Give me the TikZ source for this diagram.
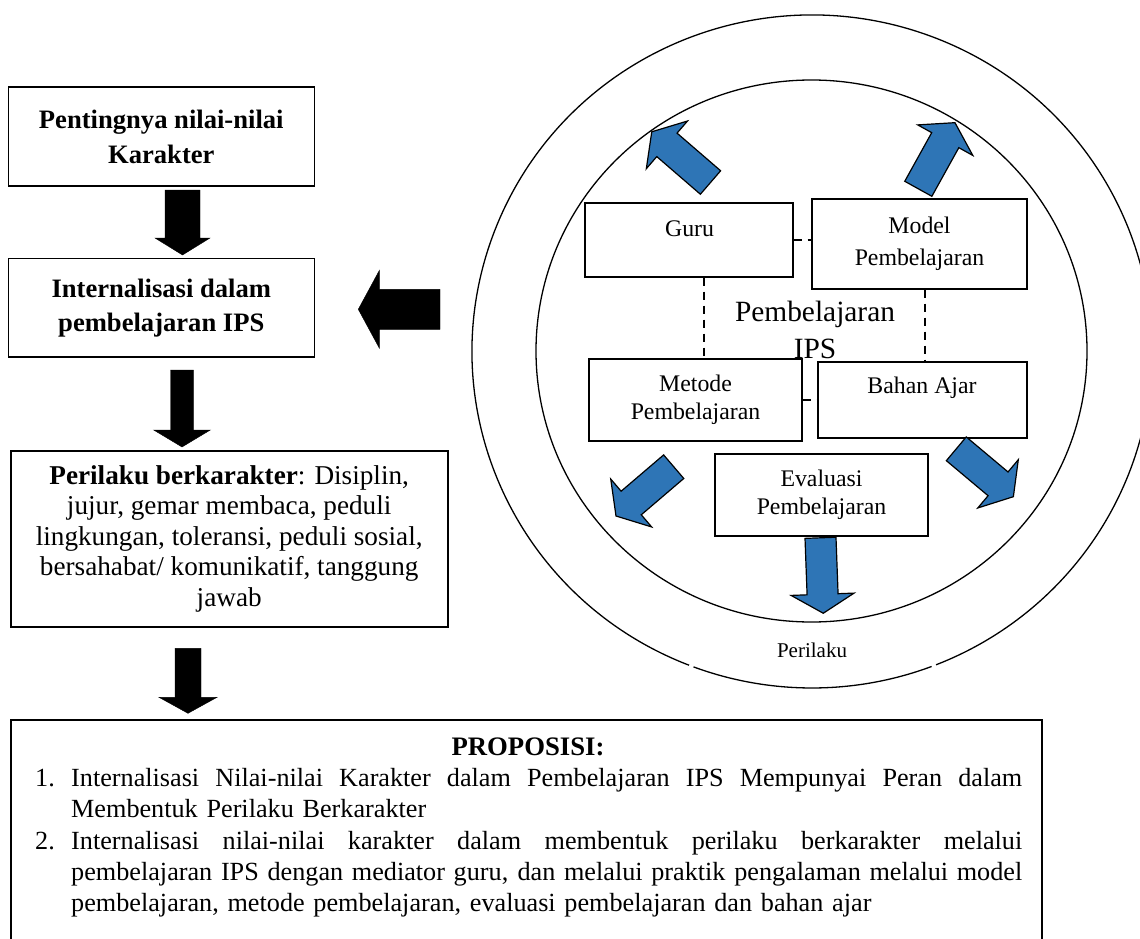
\documentclass[tikz,border=0pt]{standalone}
\usepackage{fontspec}
\setmainfont{Liberation Serif}
\definecolor{arrowblue}{RGB}{46,117,182}
\newcommand{\setfs}[2]{\fontsize{#1}{#2}\selectfont}
\newcommand{\jline}[1]{\leavevmode\hbox to 951pt{\spaceskip=0.25em plus 1fil\relax #1}}
\newcommand{\blockarrow}[7]{%
  \begin{scope}[shift={#2}, rotate=#3]
    \filldraw[#1] (0,-#5) -- ({#4-#7},-#5) -- ({#4-#7},-#6) -- (#4,0) -- ({#4-#7},#6) -- ({#4-#7},#5) -- (0,#5) -- cycle;
  \end{scope}}
\begin{document}
\begin{tikzpicture}[x=1pt,y=-1pt,
  box/.style={draw=black, fill=white, line width=1.6pt, inner sep=0pt},
  ibox/.style={draw=black, fill=white, line width=1.4pt, inner sep=0pt},
  itxt/.style={inner sep=0pt, align=center, font=\setfs{23.8}{28}},
  ptxt/.style={anchor=base west, inner sep=0pt, font=\setfs{26.2}{31}},
  blk/.style={fill=black, draw=black, line width=0.4pt},
  blu/.style={fill=arrowblue, draw=black, line width=1.2pt, line join=miter},
  dsh/.style={dash pattern=on 8pt off 6pt, line width=2pt},
  ring/.style={draw=black, line width=1.3pt}]
\useasboundingbox (0,0) rectangle (1140,939);
\clip (0,0) rectangle (1140,939);
% ellipses
\draw[ring] (811.5,351) ellipse [x radius=275.5, y radius=271];
\draw[ring] ([shift={(111.2:340 and 336.5)}]812,351.5) arc[start angle=111.2, end angle=428.6, x radius=340, y radius=336.5];
\draw[ring] ([shift={(69.4:340 and 336.5)}]812,351.5) arc[start angle=69.4, end angle=110.4, x radius=340, y radius=336.5];
% left column boxes
\node[box, minimum width=306pt, minimum height=98.7pt, align=center, font=\bfseries\setfs{26.6}{35}] (b1) at (161.3,136.65) {Pentingnya nilai-nilai\\Karakter};
\node[box, minimum width=306pt, minimum height=98.7pt, align=center, font=\bfseries\setfs{26.6}{34}] (b2) at (161.3,307.65) {Internalisasi dalam\\pembelajaran IPS};
\node[box, minimum width=437pt, minimum height=175.7pt, align=center, font=\setfs{27.2}{30.5}] (b3) at (229.2,538.85) {\textbf{Perilaku berkarakter}: Disiplin,\\jujur, gemar membaca, peduli\\lingkungan, toleransi, peduli sosial,\\bersahabat/ komunikatif, tanggung\\jawab};
\node[box, minimum width=1031pt, minimum height=245pt] (b4) at (526.5,842.5) {};
\node[inner sep=0pt, font=\bfseries\setfs{26.7}{32}] (tit) at (528,747) {PROPOSISI:};
\node[ptxt] (n1) at (35,786.5) {1.};
\node[ptxt, text width=951pt, align=left] (p1) at (71,786.5) {\jline{Internalisasi Nilai-nilai Karakter dalam Pembelajaran IPS Mempunyai Peran dalam}\\Membentuk Perilaku Berkarakter};
\node[ptxt] (n2) at (35,849) {2.};
\node[ptxt, text width=951pt, align=left] (p2) at (71,849) {\jline{Internalisasi nilai-nilai karakter dalam membentuk perilaku berkarakter melalui}\\\jline{pembelajaran IPS dengan mediator guru, dan melalui praktik pengalaman melalui model}\\pembelajaran, metode pembelajaran, evaluasi pembelajaran dan bahan ajar};
% black arrows
\blockarrow{blk}{(182.5,190)}{-90}{65}{17.5}{27.5}{17}
\blockarrow{blk}{(182,370)}{-90}{77}{11.5}{28.3}{17}
\blockarrow{blk}{(188,648.3)}{-90}{65}{13}{29}{16}
\blockarrow{blk}{(440,309.3)}{180}{81.7}{20}{38.8}{21}
% inner boxes
\node[ibox, minimum width=208pt, minimum height=74pt] (guru) at (689,240) {};
\node[itxt] (guruT) at (689.6,229) {Guru};
\node[ibox, minimum width=215pt, minimum height=90pt, align=center, font=\setfs{23.8}{32}] (model) at (919.5,244) {Model\\Pembelajaran};
\node[ibox, minimum width=213pt, minimum height=82pt, align=center, font=\setfs{23.8}{28}] (metode) at (695.5,400) {Metode\\Pembelajaran};
\node[ibox, minimum width=209pt, minimum height=76pt] (bahan) at (922.5,400) {};
\node[itxt] (bahanT) at (922,388) {Bahan Ajar};
\node[ibox, minimum width=213pt, minimum height=82pt, align=center, font=\setfs{23.8}{28}] (eval) at (821.5,495) {Evaluasi\\Pembelajaran};
% dashed links
\coordinate (dx1) at (704,0);
\coordinate (dx2) at (925,0);
\draw[dsh] (guru.south -| dx1) -- (metode.north -| dx1);
\draw[dsh] (model.south -| dx2) -- (bahan.north -| dx2);
\draw[dsh] (guru.east) -- (model.west |- guru.east);
\draw[dsh] (metode.east) -- (bahan.west);
% centre label
\node[inner sep=0pt, align=center, font=\setfs{29.4}{37}] (pips) at (815,329.5) {Pembelajaran\\IPS};
\node[inner sep=0pt, font=\setfs{21}{24}] (per) at (812,650) {Perilaku};
% blue arrows
\blockarrow{blu}{(710.5,182.5)}{139.2}{77.6}{15.5}{31.5}{20}
\blockarrow{blu}{(918.3,188.8)}{61}{75.6}{15.5}{31.5}{20}
\blockarrow{blu}{(673.7,466.7)}{220.5}{75.9}{15.5}{31.5}{20}
\blockarrow{blu}{(956.3,448.8)}{-40}{74.5}{15.5}{31.5}{20}
\blockarrow{blu}{(820.5,537.8)}{-87.9}{75.5}{15.5}{31.5}{19}
\end{tikzpicture}
\end{document}
